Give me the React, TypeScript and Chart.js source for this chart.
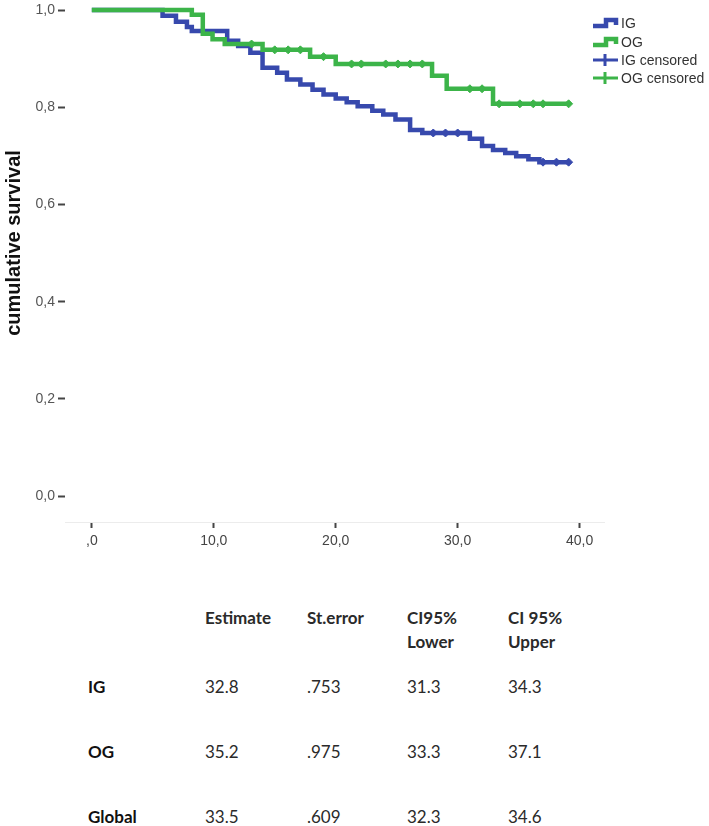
import React, { useEffect, useRef } from "react";
import { Chart, registerables } from "chart.js";

Chart.register(...registerables);

// ---- data ----
const timeTicks = [0, 10, 20, 30, 40];
const survivalTicks = [0, 0.2, 0.4, 0.6, 0.8, 1.0];

const igTimes = [0, 5.8, 6.9, 7.8, 8.2, 11.1, 12.0, 13.0, 14.0, 15.2, 16.0, 17.1, 18.1, 19.0, 20.0, 20.9, 21.8, 23.0, 23.9, 24.9, 26.1, 27.1, 31.0, 32.0, 32.9, 33.9, 34.8, 35.8, 36.7, 39.1];
const igSurvival = [1.0, 0.988, 0.976, 0.965, 0.957, 0.937, 0.926, 0.912, 0.881, 0.871, 0.857, 0.847, 0.836, 0.826, 0.818, 0.810, 0.802, 0.793, 0.785, 0.775, 0.753, 0.747, 0.735, 0.720, 0.712, 0.706, 0.699, 0.693, 0.687, 0.687];
const igCensored = [28.0, 29.0, 30.0, 37.0, 38.1, 39.1];

const ogTimes = [0, 8.2, 9.1, 9.9, 10.9, 14.0, 17.9, 20.0, 27.9, 29.1, 32.9, 39.1];
const ogSurvival = [1.0, 0.99, 0.951, 0.94, 0.93, 0.918, 0.904, 0.889, 0.865, 0.838, 0.807, 0.807];
const ogCensored = [13.1, 15.0, 16.1, 17.1, 19.0, 21.3, 22.1, 24.1, 25.1, 26.1, 27.1, 31.0, 32.0, 33.4, 35.1, 36.2, 37.0, 39.1];

const legendLabels = ["IG", "OG", "IG censored", "OG censored"];
const yTitle = "cumulative survival";

const tableHeaders = ["Estimate", "St.error", "CI95%\nLower", "CI 95%\nUpper"];
const tableRowLabels = ["IG", "OG", "Global"];
const tableEstimate = ["32.8", "35.2", "33.5"];
const tableStdError = [".753", ".975", ".609"];
const tableLower = ["31.3", "33.3", "32.3"];
const tableUpper = ["34.3", "37.1", "34.6"];

// ---- styles ----
const BLUE = "#3749ad";
const GREEN = "#3cb449";
const FONT = "'Liberation Sans', Arial, sans-serif";

function survivalAt(times: number[], surv: number[], t: number) {
  let s = surv[0];
  for (let i = 0; i < times.length; i++) if (times[i] <= t) s = surv[i];
  return s;
}

const overlayPlugin = {
  id: "overlay",
  afterDraw(chart: any) {
    const ctx = chart.ctx as CanvasRenderingContext2D;
    ctx.save();
    // y axis title
    ctx.translate(14, 243);
    ctx.rotate(-Math.PI / 2);
    ctx.font = `bold 20px ${FONT}`;
    ctx.fillStyle = "#111";
    ctx.textAlign = "center";
    ctx.textBaseline = "middle";
    ctx.fillText(yTitle, 0, 0);
    ctx.restore();

    // legend
    ctx.save();
    const ys = [23, 42, 60, 78];
    const cols = [BLUE, GREEN, BLUE, GREEN];
    for (let i = 0; i < 4; i++) {
      const y = ys[i];
      ctx.strokeStyle = cols[i];
      ctx.lineCap = "butt";
      ctx.lineJoin = "miter";
      if (i < 2) {
        ctx.lineWidth = 4.5;
        ctx.beginPath();
        ctx.moveTo(593, y + 3);
        ctx.lineTo(606, y + 3);
        ctx.lineTo(606, y - 3);
        ctx.lineTo(616, y - 3);
        ctx.lineTo(616, y + 2);
        ctx.stroke();
      } else {
        ctx.lineWidth = 3;
        ctx.beginPath();
        ctx.moveTo(593, y);
        ctx.lineTo(618, y);
        ctx.stroke();
        ctx.beginPath();
        ctx.moveTo(605, y - 6);
        ctx.lineTo(605, y + 6);
        ctx.stroke();
      }
      ctx.font = `14px ${FONT}`;
      ctx.fillStyle = "#333";
      ctx.textAlign = "left";
      ctx.textBaseline = "middle";
      ctx.fillText(legendLabels[i], 621, y + 1);
    }
    ctx.restore();
  },
};

function ChartCanvas() {
  const ref = useRef<HTMLCanvasElement | null>(null);
  useEffect(() => {
    if (!ref.current) return;
    const stepData = (times: number[], surv: number[]) => times.map((t, i) => ({ x: t, y: surv[i] }));
    const censorData = (cens: number[], times: number[], surv: number[]) =>
      cens.map((t) => ({ x: t, y: survivalAt(times, surv, t) }));
    const chart = new Chart(ref.current, {
      type: "line",
      data: {
        datasets: [
          {
            label: "IG",
            data: stepData(igTimes, igSurvival),
            stepped: "before",
            borderColor: BLUE,
            borderWidth: 4.5,
            pointRadius: 0,
            fill: false,
            clip: false,
            order: 4,
          },
          {
            label: "OG",
            data: stepData(ogTimes, ogSurvival),
            stepped: "before",
            borderColor: GREEN,
            borderWidth: 4.5,
            pointRadius: 0,
            fill: false,
            clip: false,
            order: 3,
          },
          {
            label: "IG censored",
            data: censorData(igCensored, igTimes, igSurvival),
            showLine: false,
            pointStyle: "rectRot",
            pointRadius: 4,
            backgroundColor: BLUE,
            borderColor: BLUE,
            borderWidth: 1,
            clip: false,
            order: 2,
          },
          {
            label: "OG censored",
            data: censorData(ogCensored, ogTimes, ogSurvival),
            showLine: false,
            pointStyle: "rectRot",
            pointRadius: 4,
            backgroundColor: GREEN,
            borderColor: GREEN,
            borderWidth: 1,
            clip: false,
            order: 1,
          },
        ],
      },
      options: {
        animation: false,
        responsive: false,
        devicePixelRatio: 1,
        layout: { padding: { top: 7, left: 0, right: 105, bottom: 0 } },
        plugins: { legend: { display: false }, tooltip: { enabled: false } },
        scales: {
          x: {
            type: "linear",
            min: -2.2,
            max: 42,
            afterBuildTicks: (s: any) => {
              s.ticks = timeTicks.map((v) => ({ value: v }));
            },
            afterFit: (s: any) => {
              s.height = 38;
            },
            grid: { drawOnChartArea: false, drawTicks: true, tickLength: 6, tickColor: "#444", tickWidth: 2 },
            border: { display: true, color: "#ececec", width: 1 },
            ticks: {
              padding: 6,
              color: "#444",
              font: { family: FONT, size: 14, lineHeight: 1 },
              maxRotation: 0,
              autoSkip: false,
              callback: (v: any) => (Number(v) === 0 ? ",0" : Number(v).toFixed(1).replace(".", ",")),
            },
          },
          y: {
            type: "linear",
            min: -0.0532,
            max: 1.0,
            afterBuildTicks: (s: any) => {
              s.ticks = survivalTicks.map((v) => ({ value: v }));
            },
            afterFit: (s: any) => {
              s.width = 65;
            },
            grid: { drawOnChartArea: false, drawTicks: true, tickLength: 7, tickColor: "#444", tickWidth: 2 },
            border: { display: false },
            ticks: {
              padding: 3,
              color: "#555",
              font: { family: FONT, size: 14, lineHeight: 1 },
              autoSkip: false,
              callback: (v: any) => Number(v).toFixed(1).replace(".", ","),
            },
          },
        },
      },
      plugins: [overlayPlugin],
    });
    return () => chart.destroy();
  }, []);
  return <canvas ref={ref} width={709} height={560} style={{ display: "block" }} />;
}

export default function App() {
  const cols = [205, 307, 407, 508];
  const rowTops = [675, 740, 805];
  const valueCols = [tableEstimate, tableStdError, tableLower, tableUpper];
  const cell: React.CSSProperties = {
    position: "absolute",
    fontFamily: "Lato, 'Open Sans', sans-serif",
    fontSize: 17,
    lineHeight: "24px",
    whiteSpace: "pre",
    color: "#2a2a2a",
  };
  return (
    <div style={{ position: "absolute", left: 0, top: 0, width: 709, height: 826, background: "#fff", overflow: "hidden" }}>
      <ChartCanvas />
      {tableHeaders.map((h, i) => (
        <div key={"h" + i} style={{ ...cell, left: cols[i], top: 606, fontWeight: 700 }}>
          {h}
        </div>
      ))}
      {tableRowLabels.map((r, ri) => (
        <React.Fragment key={"r" + ri}>
          <div style={{ ...cell, left: 88, top: rowTops[ri], fontWeight: 700, color: "#111" }}>{r}</div>
          {valueCols.map((col, ci) => (
            <div key={ci} style={{ ...cell, left: cols[ci], top: rowTops[ri] }}>
              {col[ri]}
            </div>
          ))}
        </React.Fragment>
      ))}
    </div>
  );
}
